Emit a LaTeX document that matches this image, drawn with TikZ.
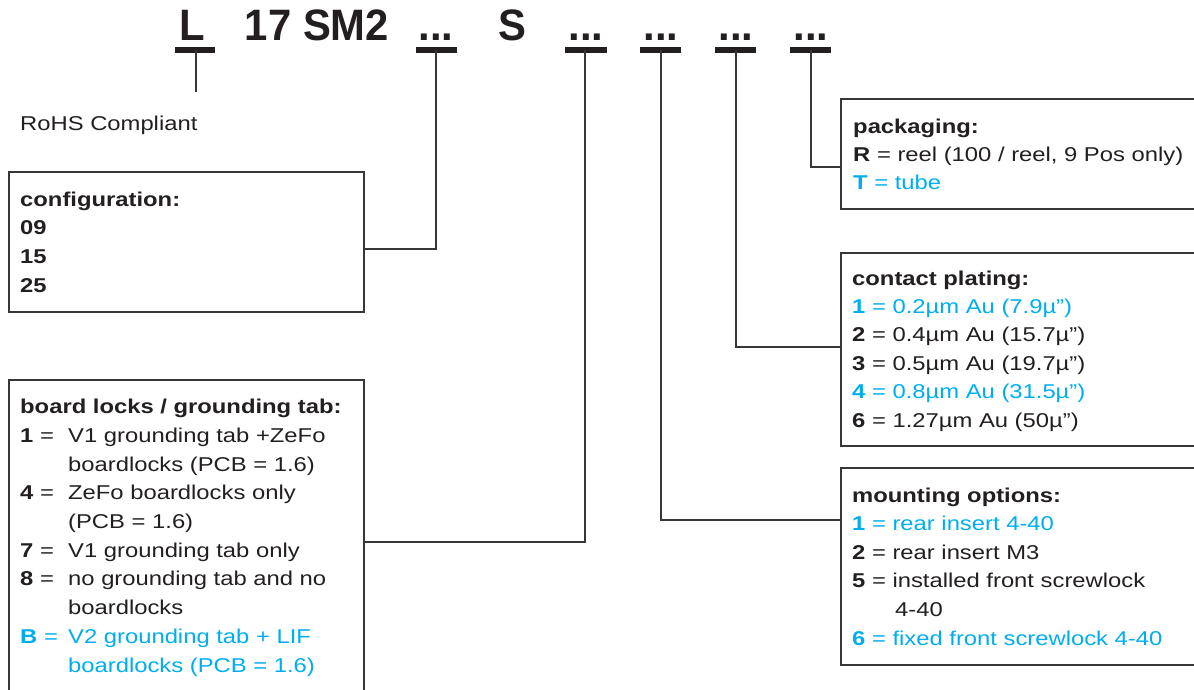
\documentclass[tikz,border=0pt]{standalone}
\usepackage{fontspec}
\setmainfont{Liberation Sans}[FakeStretch=1.19]
\newfontfamily\headfont[FakeStretch=0.95]{Liberation Sans}
\definecolor{cb}{RGB}{0,174,239}
\definecolor{ink}{RGB}{35,31,32}
\definecolor{frame}{RGB}{55,55,55}
\newcommand\optlbl[1]{\makebox[48pt][l]{\textbf{#1} =}}
\begin{document}
\begin{tikzpicture}[x=1pt,y=-1pt,
  txt/.style={anchor=base west, inner sep=0, align=left, font=\fontsize{20}{28.6}\selectfont, text=ink},
  hd/.style={anchor=base, inner sep=0, font=\headfont\bfseries\fontsize{44}{44}\selectfont, text=ink},
  bar/.style={line width=5.5pt, draw=ink},
  conn/.style={line width=1.2pt, draw=frame},
  frm/.style={draw=frame, line width=1.3pt, inner sep=0, outer sep=0, anchor=north west}]
\useasboundingbox (0,0) rectangle (1194,689);
% header
\node[hd] (hL) at (192,40) {L};
\node[hd] (h17) at (317,40) {17 SM2};
\node[hd] (hd1) at (436,40) {...};
\node[hd] (hS) at (512,40) {S};
\node[hd] (hd2) at (586,40) {...};
\node[hd] (hd3) at (661,40) {...};
\node[hd] (hd4) at (736,40) {...};
\node[hd] (hd5) at (811,40) {...};
% bars
\coordinate (b0) at (196,50);
\coordinate (b1) at (436,50);
\coordinate (b2) at (585,50);
\coordinate (b3) at (661,50);
\coordinate (b4) at (736,50);
\coordinate (b5) at (811,50);
\draw[bar] (175,50) -- (215,50);
\draw[bar] (416,50) -- (457,50);
\draw[bar] (565,50) -- (607,50);
\draw[bar] (640,50) -- (681,50);
\draw[bar] (715,50) -- (756,50);
\draw[bar] (790,50) -- (831,50);
% frames
\node[frm, minimum width=355pt, minimum height=140pt] (cfgbox) at (9,172) {};
\node[frm, minimum width=355pt, minimum height=330pt] (bdbox) at (9,380) {};
\node[frm, minimum width=370pt, minimum height=110pt] (pkbox) at (841,99) {};
\node[frm, minimum width=370pt, minimum height=193pt] (cpbox) at (841,253) {};
\node[frm, minimum width=370pt, minimum height=197pt] (mobox) at (841,468) {};
% connectors
\coordinate (rohsend) at (196,92);
\draw[conn] (b0) -- (rohsend);
\draw[conn] (b1) |- ([yshift=-77pt]cfgbox.north east);
\draw[conn] (b2) |- ([yshift=-162pt]bdbox.north east);
\draw[conn] (b3) |- ([yshift=-52pt]mobox.north west);
\draw[conn] (b4) |- ([yshift=-94pt]cpbox.north west);
\draw[conn] (b5) |- ([yshift=-68pt]pkbox.north west);
% texts (anchor = baseline of the last line)
\node[txt] (rohs) at (20,130) {RoHS Compliant};
\node[txt] (cfgtxt) at (20,292) {\textbf{configuration:}\\\textbf{09}\\\textbf{15}\\\textbf{25}};
\node[txt, font=\fontsize{20}{28.7}\selectfont] (bdtxt) at (20,672) {\textbf{board locks / grounding tab:}\\
\optlbl{1}V1 grounding tab +ZeFo\\
\hspace*{48pt}boardlocks (PCB = 1.6)\\
\optlbl{4}ZeFo boardlocks only\\
\hspace*{48pt}(PCB = 1.6)\\
\optlbl{7}V1 grounding tab only\\
\optlbl{8}no grounding tab and no\\
\hspace*{48pt}boardlocks\\
\textcolor{cb}{\optlbl{B}V2 grounding tab + LIF}\\
\textcolor{cb}{\hspace*{48pt}boardlocks (PCB = 1.6)}};
\node[txt, font=\fontsize{20}{28}\selectfont] (pktxt) at (853,189) {\textbf{packaging:}\\
\textbf{R} = reel (100 / reel, 9 Pos only)\\
\textcolor{cb}{\textbf{T} = tube}};
\node[txt, font=\fontsize{20}{28.4}\selectfont] (cptxt) at (852,427) {\textbf{contact plating:}\\
\textcolor{cb}{\textbf{1} = 0.2µm Au (7.9µ”)}\\
\textbf{2} = 0.4µm Au (15.7µ”)\\
\textbf{3} = 0.5µm Au (19.7µ”)\\
\textcolor{cb}{\textbf{4} = 0.8µm Au (31.5µ”)}\\
\textbf{6} = 1.27µm Au (50µ”)};
\node[txt] (motxt) at (852,645) {\textbf{mounting options:}\\
\textcolor{cb}{\textbf{1} = rear insert 4-40}\\
\textbf{2} = rear insert M3\\
\textbf{5} = installed front screwlock\\
\hspace*{43pt}4-40\\
\textcolor{cb}{\textbf{6} = fixed front screwlock 4-40}};
\end{tikzpicture}
\end{document}
